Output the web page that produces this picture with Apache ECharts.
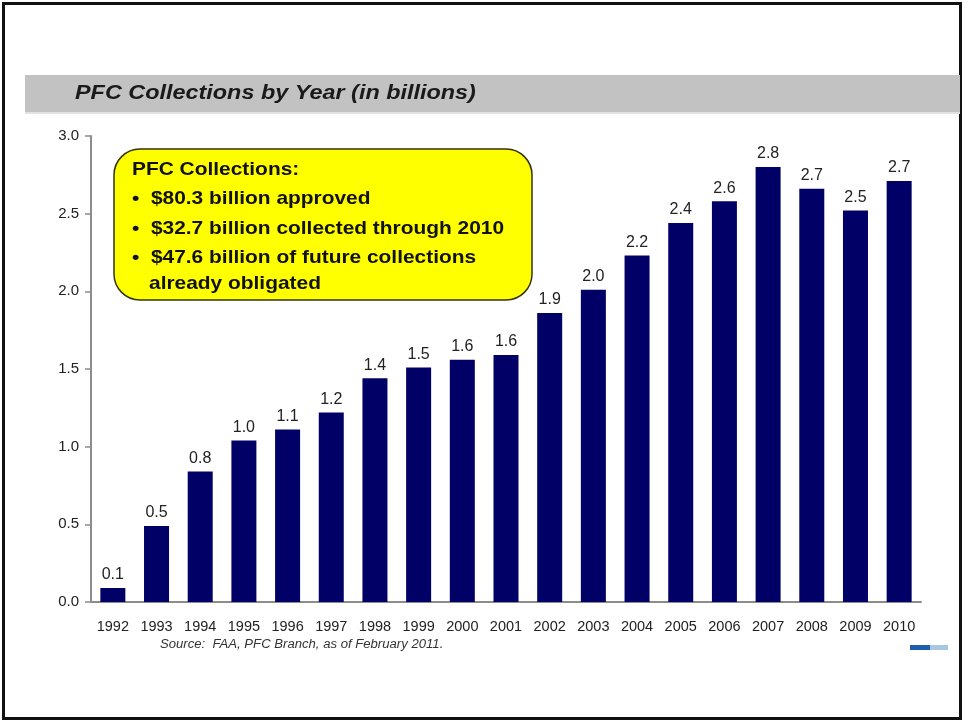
<!DOCTYPE html>
<html>
<head>
<meta charset="utf-8">
<script src="https://cdn.jsdelivr.net/npm/echarts@6/dist/echarts.min.js"></script>
<style>
  html, body { margin: 0; padding: 0; background: #ffffff; }
  #chart { width: 965px; height: 721px; }
</style>
</head>
<body>
<div id="chart"></div>
<script>
// Passenger Facility Charge collections per year, in billions of dollars
const years = ['1992','1993','1994','1995','1996','1997','1998','1999','2000','2001',
               '2002','2003','2004','2005','2006','2007','2008','2009','2010'];
const collections = [0.09, 0.49, 0.84, 1.04, 1.11, 1.22, 1.44, 1.51, 1.56, 1.59,
                     1.86, 2.01, 2.23, 2.44, 2.58, 2.80, 2.66, 2.52, 2.71];
const yTicks = [0, 0.5, 1.0, 1.5, 2.0, 2.5, 3.0];

const calloutLines = [
  'PFC Collections:',
  '\u2022  $80.3 billion approved',
  '\u2022  $32.7 billion collected through 2010',
  '\u2022  $47.6 billion of future collections',
  'already obligated'
];
const titleText = 'PFC Collections by Year (in billions)';
const sourceText = 'Source:  FAA, PFC Branch, as of February 2011.';

const FONT = '"Liberation Sans", Arial, sans-serif';
const chart = echarts.init(document.getElementById('chart'), null, { renderer: 'canvas' });

// slide text is set slightly wide, so the graphic texts get a horizontal stretch
const calloutY = [170, 199, 229, 258, 284];
const calloutText = calloutLines.map((line, i) => ({
  type: 'text',
  x: i === 4 ? 149 : 132,
  y: calloutY[i],
  scaleX: 1.13,
  z: 20,
  style: {
    text: line,
    fill: '#111111',
    font: 'bold 18.5px ' + FONT,
    textVerticalAlign: 'middle'
  }
}));

chart.setOption({
  animation: false,
  backgroundColor: '#ffffff',
  grid: { left: 91, right: 44, top: 136, bottom: 119 },
  xAxis: {
    type: 'category',
    data: years,
    axisLine: { lineStyle: { color: '#8c8c8c', width: 2 } },
    axisTick: { show: false },
    axisLabel: { color: '#222222', fontSize: 14.5, fontFamily: FONT, margin: 17, interval: 0 }
  },
  yAxis: {
    type: 'value',
    min: yTicks[0],
    max: yTicks[yTicks.length - 1],
    interval: 0.5,
    axisLine: { show: true, lineStyle: { color: '#8c8c8c', width: 2 } },
    axisTick: { show: true, length: 6, lineStyle: { color: '#8c8c8c', width: 1.5 } },
    splitLine: { show: false },
    axisLabel: {
      color: '#222222', fontSize: 15, fontFamily: FONT, margin: 12,
      formatter: v => v.toFixed(1)
    }
  },
  series: [{
    type: 'bar',
    data: collections,
    barWidth: 25,
    itemStyle: { color: '#000066' },
    label: {
      show: true,
      position: 'top',
      distance: 5,
      color: '#222222',
      fontSize: 16,
      fontFamily: FONT,
      formatter: p => p.value.toFixed(1)
    }
  }],
  graphic: [
    // page frame
    { type: 'rect', x: 0, y: 0, z: 0, silent: true,
      shape: { x: 3.5, y: 3.5, width: 957, height: 715 },
      style: { fill: null, stroke: '#111111', lineWidth: 3 } },
    // title band
    { type: 'rect', x: 25, y: 75, z: 1,
      shape: { width: 935, height: 37 },
      style: { fill: '#c2c2c2' } },
    { type: 'rect', x: 25, y: 112, z: 1,
      shape: { width: 935, height: 2 },
      style: { fill: '#e2e2e2' } },
    { type: 'text', x: 75, y: 94, z: 2, scaleX: 1.2,
      style: { text: titleText, fill: '#1a1a1a', font: 'italic bold 19.5px ' + FONT,
               textVerticalAlign: 'middle' } },
    // callout box
    { type: 'rect', x: 114, y: 149, z: 19,
      shape: { width: 418, height: 151, r: 26 },
      style: { fill: '#ffff00', stroke: '#333300', lineWidth: 1.5 } },
    ...calloutText,
    // source note
    { type: 'text', x: 160, y: 645, z: 5, scaleX: 1.05,
      style: { text: sourceText, fill: '#333333', font: 'italic 12.5px ' + FONT,
               textVerticalAlign: 'middle' } },
    // small logo sliver
    { type: 'rect', x: 910, y: 645, z: 5,
      shape: { width: 20, height: 5 }, style: { fill: '#1f5fae' } },
    { type: 'rect', x: 930, y: 645, z: 5,
      shape: { width: 18, height: 5 }, style: { fill: '#a9c7df' } }
  ]
});
</script>
</body>
</html>
